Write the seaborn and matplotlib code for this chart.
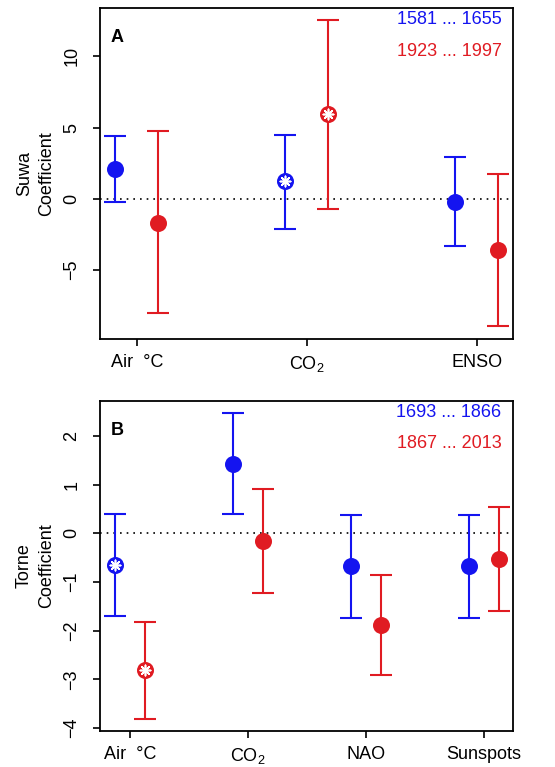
import numpy as np
import pandas as pd
import matplotlib
matplotlib.use("Agg")
import matplotlib.pyplot as plt
import seaborn as sns

# ---- data ----
cats_a = ["Air  \u00b0C", "CO$_2$", "ENSO"]
a_blue_est = [2.1, 1.22, -0.19]
a_blue_lo = [-0.23, -2.11, -3.30]
a_blue_hi = [4.43, 4.50, 2.95]
a_blue_sig = [False, True, False]
a_red_est = [-1.66, 5.95, -3.61]
a_red_lo = [-8.03, -0.68, -8.93]
a_red_hi = [4.73, 12.53, 1.76]
a_red_sig = [False, True, False]
a_labels = ["1581 ... 1655", "1923 ... 1997"]

cats_b = ["Air  \u00b0C", "CO$_2$", "NAO", "Sunspots"]
b_blue_est = [-0.65, 1.42, -0.68, -0.68]
b_blue_lo = [-1.70, 0.39, -1.73, -1.74]
b_blue_hi = [0.40, 2.47, 0.37, 0.38]
b_blue_sig = [True, False, False, False]
b_red_est = [-2.81, -0.16, -1.88, -0.53]
b_red_lo = [-3.81, -1.23, -2.90, -1.60]
b_red_hi = [-1.82, 0.92, -0.86, 0.55]
b_red_sig = [True, False, False, False]
b_labels = ["1693 ... 1866", "1867 ... 2013"]

BLUE = "#1414f0"
RED = "#e01b22"

sns.set_style("ticks")
plt.rcParams["font.family"] = ["Liberation Sans", "DejaVu Sans"]
plt.rcParams["mathtext.fontset"] = "custom"
plt.rcParams["mathtext.rm"] = "Liberation Sans"
plt.rcParams["mathtext.it"] = "Liberation Sans:italic"
plt.rcParams["text.color"] = "black"
plt.rcParams["axes.labelcolor"] = "black"
plt.rcParams["xtick.color"] = "black"
plt.rcParams["ytick.color"] = "black"

fig = plt.figure(figsize=(5.55, 7.67), dpi=100)
axA = fig.add_axes([0.1802, 0.558, 0.9243 - 0.1802, 0.98957 - 0.558])
axB = fig.add_axes([0.1802, 0.04694, 0.9243 - 0.1802, 0.4772 - 0.04694])


def panel(ax, cats, series, labels, ylim, yticks, letter, ylabel, xpad):
    x = np.arange(1, len(cats) + 1)
    ax.axhline(0, color="black", ls=(0, (1, 3)), lw=1.2, zorder=1)
    for (est, lo, hi, sig, col, off) in series:
        est = np.asarray(est); lo = np.asarray(lo); hi = np.asarray(hi)
        xs = x + off
        ax.errorbar(xs, est, yerr=[est - lo, hi - est], fmt="none",
                    ecolor=col, elinewidth=1.5, capsize=8, capthick=1.5, zorder=2)
        df = pd.DataFrame({"x": xs, "y": est, "sig": sig})
        sns.scatterplot(data=df, x="x", y="y", color=col, s=150,
                        edgecolor=col, linewidth=0, ax=ax, zorder=3)
        dsig = df[df["sig"]]
        if len(dsig):
            sns.scatterplot(data=dsig, x="x", y="y", marker=(8, 2, 0), s=55,
                            color="white", edgecolor="white", linewidth=1.2,
                            ax=ax, zorder=4)
    ax.set_xlim(x[0] - xpad[0], x[-1] + xpad[1])
    ax.set_ylim(*ylim)
    ax.set_xticks(x)
    ax.set_xticklabels(cats, fontsize=13)
    ax.set_yticks(yticks)
    ax.set_yticklabels([str(t).replace("-", "\u2212") for t in yticks],
                       fontsize=13, rotation=90, va="center")
    ax.tick_params(axis="both", direction="out", length=5, width=1.2, colors="black")
    ax.tick_params(axis="x", pad=6)
    ax.tick_params(axis="y", pad=9)
    for s in ax.spines.values():
        s.set_visible(True)
        s.set_linewidth(1.3)
        s.set_color("black")
    ax.set_xlabel("")
    ax.set_ylabel(ylabel, fontsize=13, labelpad=6, linespacing=1.4)
    ax.text(0.025, 0.91, letter, transform=ax.transAxes, fontsize=13,
            fontweight="bold", ha="left", va="center")
    ax.text(0.972, 0.965, labels[0], color=BLUE, transform=ax.transAxes,
            fontsize=13, ha="right", va="center")
    ax.text(0.972, 0.87, labels[1], color=RED, transform=ax.transAxes,
            fontsize=13, ha="right", va="center")


panel(axA, cats_a,
      [(a_blue_est, a_blue_lo, a_blue_hi, a_blue_sig, BLUE, -0.125),
       (a_red_est, a_red_lo, a_red_hi, a_red_sig, RED, 0.125)],
      a_labels, (-9.84, 13.4), [-5, 0, 5, 10], "A", "Suwa\nCoefficient",
      (0.216, 0.214))
panel(axB, cats_b,
      [(b_blue_est, b_blue_lo, b_blue_hi, b_blue_sig, BLUE, -0.125),
       (b_red_est, b_red_lo, b_red_hi, b_red_sig, RED, 0.125)],
      b_labels, (-4.06, 2.72), [-4, -3, -2, -1, 0, 1, 2], "B", "Torne\nCoefficient",
      (0.254, 0.246))

fig.savefig("out.png", dpi=100)
